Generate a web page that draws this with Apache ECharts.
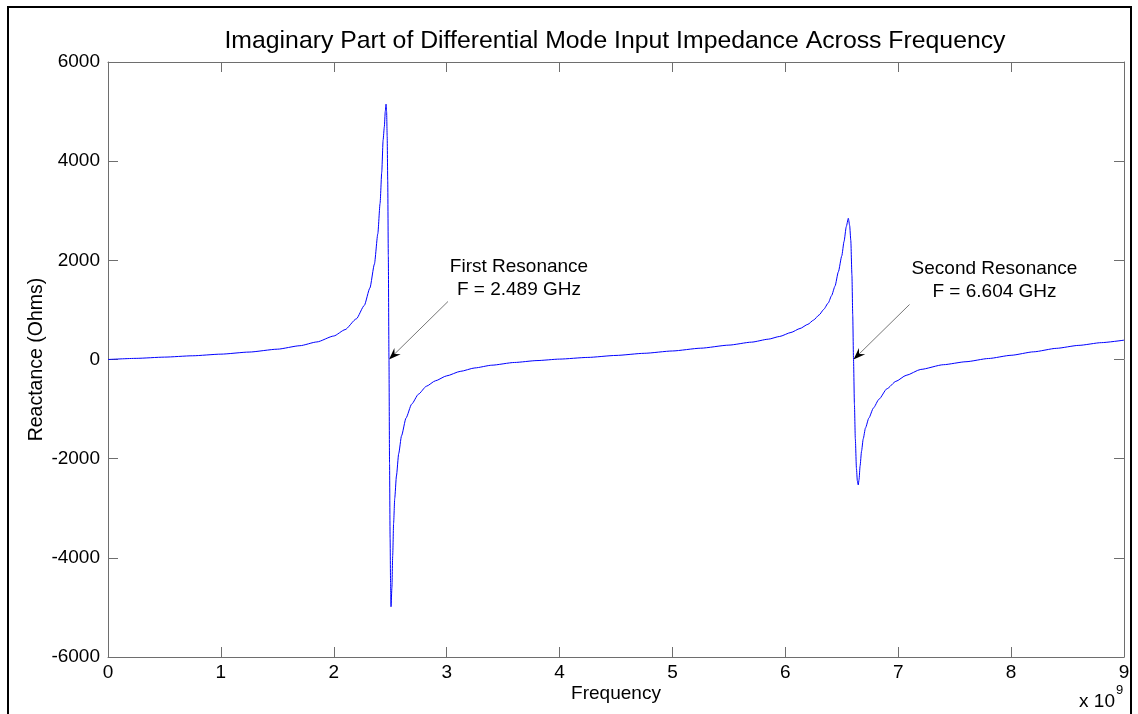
<!DOCTYPE html>
<html>
<head>
<meta charset="utf-8">
<script src="https://cdn.jsdelivr.net/npm/echarts@6/dist/echarts.min.js"></script>
<style>
  html, body { margin: 0; padding: 0; background: #fff; }
  #chart { width: 1138px; height: 714px; }
</style>
</head>
<body>
<div id="chart"></div>
<script>
// Frequency sweep (GHz) and imaginary part of the differential input impedance (Ohms)
const freqGHz = [
  0, 0.25, 0.5, 0.75, 1.0, 1.25, 1.5, 1.7, 1.85, 2.0, 2.1, 2.2, 2.27, 2.32, 2.36, 2.39,
  2.41, 2.425, 2.437, 2.448, 2.456, 2.463, 2.468, 2.473, 2.478, 2.483, 2.489, 2.494,
  2.499, 2.503, 2.507, 2.515, 2.522, 2.53, 2.54, 2.555, 2.575, 2.6, 2.64, 2.69, 2.75,
  2.82, 2.9, 3.0, 3.12, 3.25, 3.4, 3.6, 3.8, 4.0, 4.25, 4.5, 4.75, 5.0, 5.25, 5.5, 5.7,
  5.85, 5.95, 6.05, 6.13, 6.2, 6.25, 6.3, 6.34, 6.38, 6.41, 6.44, 6.47, 6.5, 6.52, 6.54,
  6.558, 6.57, 6.58, 6.59, 6.597, 6.604, 6.612, 6.62, 6.63, 6.638, 6.646, 6.653, 6.662,
  6.675, 6.69, 6.71, 6.74, 6.78, 6.83, 6.9, 6.98, 7.07, 7.2, 7.4, 7.6, 7.8, 8.0, 8.2,
  8.4, 8.6, 8.8, 9.0
];
const reactance = [
  0, 23, 48, 75, 108, 150, 208, 278, 354, 474, 602, 820, 1089, 1442, 1925, 2534,
  3146, 3780, 4427, 4696, 5000, 5150, 5000, 4500, 3600, 2100, 0, -2100,
  -3600, -4500, -4986, -4600, -3950, -3300, -2800, -2350, -1900, -1540, -1180, -900, -700,
  -540, -430, -330, -240, -170, -115, -60, -22, 8, 42, 82, 125, 172, 228, 290, 350,
  410, 465, 545, 625, 710, 795, 900, 1010, 1140, 1290, 1480, 1770, 2090, 2380, 2680,
  2848, 2700, 2400, 1700, 900, 0, -900, -1600, -2200, -2450, -2530, -2420, -2150,
  -1850, -1600, -1380, -1180, -980, -800, -590, -440, -320, -200, -105, -45, 20, 85, 155,
  225, 285, 340, 390
];

// Resonances marked on the plot
const resonanceFreqs = [2.489, 6.604];
const resonanceNames = ['First Resonance', 'Second Resonance'];

// Axis ranges and tick spacing
const xRange = [0, 9], xStep = 1;
const yRange = [-6000, 6000], yStep = 2000;

const FONT = '"Liberation Sans", Arial, Helvetica, sans-serif';
const AXIS_GRAY = '#6e6e6e';

const chart = echarts.init(document.getElementById('chart'), null, { renderer: 'canvas' });

function axisCommon(extra) {
  return Object.assign({
    type: 'value',
    axisLine: { show: true, onZero: false, lineStyle: { color: AXIS_GRAY, width: 1 } },
    axisTick: { show: true, inside: true, length: 10, lineStyle: { color: AXIS_GRAY, width: 1 } },
    splitLine: { show: false },
    axisLabel: { color: '#000', fontFamily: FONT, fontSize: 19 }
  }, extra);
}

const plainNumber = v => String(v);

const option = {
  animation: false,
  backgroundColor: '#fff',
  title: {
    text: 'Imaginary Part of Differential Mode Input Impedance Across Frequency',
    left: 610, top: 24, textAlign: 'center',
    textStyle: { fontFamily: FONT, fontSize: 24.8, fontWeight: 'normal', color: '#000' }
  },
  grid: { left: 108, right: 14, top: 62, bottom: 57, containLabel: false },
  xAxis: [
    axisCommon({
      min: xRange[0], max: xRange[1], interval: xStep, position: 'bottom',
      name: 'Frequency', nameLocation: 'middle', nameGap: 27, nameMoveOverlap: false,
      nameTextStyle: { fontFamily: FONT, fontSize: 19, color: '#000', verticalAlign: 'top' },
      axisLabel: { color: '#000', fontFamily: FONT, fontSize: 19, margin: 6, formatter: plainNumber }
    }),
    axisCommon({
      min: xRange[0], max: xRange[1], interval: xStep, position: 'top',
      axisLabel: { show: false }
    })
  ],
  yAxis: [
    axisCommon({
      min: yRange[0], max: yRange[1], interval: yStep, position: 'left',
      name: 'Reactance (Ohms)', nameLocation: 'middle', nameGap: 61, nameMoveOverlap: false,
      nameTextStyle: { fontFamily: FONT, fontSize: 19.5, color: '#000' },
      axisLabel: { color: '#000', fontFamily: FONT, fontSize: 19, margin: 8, formatter: plainNumber }
    }),
    axisCommon({
      min: yRange[0], max: yRange[1], interval: yStep, position: 'right',
      axisLabel: { show: false }
    })
  ],
  series: [{
    type: 'line',
    xAxisIndex: 0, yAxisIndex: 0,
    data: freqGHz.map((f, i) => [f, reactance[i]]),
    showSymbol: false,
    smooth: 0.2,
    smoothMonotone: 'x',
    lineStyle: { color: '#0000ff', width: 1 },
    silent: true
  }]
};

chart.setOption(option);

// Annotations: arrows pointing at each resonance, with the label above-right
const arrowTail = [[59, -58], [56, -55]];
const labelOffset = [[130, -81], [141, -79]];
const graphics = [];

// outer figure frame
graphics.push({
  type: 'rect', silent: true,
  shape: { x: 8, y: 7, width: 1123, height: 720 },
  style: { fill: null, stroke: '#000', lineWidth: 2 }
});

resonanceFreqs.forEach((f, k) => {
  const tip = chart.convertToPixel({ gridIndex: 0 }, [f, 0]);
  const tail = [tip[0] + arrowTail[k][0], tip[1] + arrowTail[k][1]];
  const dx = tip[0] - tail[0], dy = tip[1] - tail[1];
  const len = Math.hypot(dx, dy);
  const ux = dx / len, uy = dy / len;
  const nx = -uy, ny = ux;
  const L = 12, W = 9;
  graphics.push({
    type: 'line', silent: true,
    shape: { x1: tail[0], y1: tail[1], x2: tip[0] - ux * 6, y2: tip[1] - uy * 6 },
    style: { stroke: '#777', lineWidth: 1 }
  });
  graphics.push({
    type: 'polygon', silent: true,
    shape: { points: [
      [tip[0], tip[1]],
      [tip[0] - ux * L + nx * W / 2, tip[1] - uy * L + ny * W / 2],
      [tip[0] - ux * L * 0.65, tip[1] - uy * L * 0.65],
      [tip[0] - ux * L - nx * W / 2, tip[1] - uy * L - ny * W / 2]
    ] },
    style: { fill: '#000' }
  });
  graphics.push({
    type: 'text', silent: true,
    x: tip[0] + labelOffset[k][0], y: tip[1] + labelOffset[k][1],
    style: {
      text: resonanceNames[k] + '\nF = ' + f.toFixed(3) + ' GHz',
      fontFamily: FONT, fontSize: 19, fill: '#000',
      align: 'center', verticalAlign: 'middle', lineHeight: 23
    }
  });
});

// exponent note for the frequency axis
const xEnd = chart.convertToPixel({ gridIndex: 0 }, [xRange[1], yRange[0]]);
graphics.push({
  type: 'text', silent: true,
  x: xEnd[0] - 9, y: xEnd[1] + 45,
  style: { text: 'x 10', fontFamily: FONT, fontSize: 19, fill: '#000', align: 'right', verticalAlign: 'middle' }
});
graphics.push({
  type: 'text', silent: true,
  x: xEnd[0] - 8, y: xEnd[1] + 33,
  style: { text: '9', fontFamily: FONT, fontSize: 13, fill: '#000', align: 'left', verticalAlign: 'middle' }
});

chart.setOption({ graphic: graphics });
</script>
</body>
</html>
